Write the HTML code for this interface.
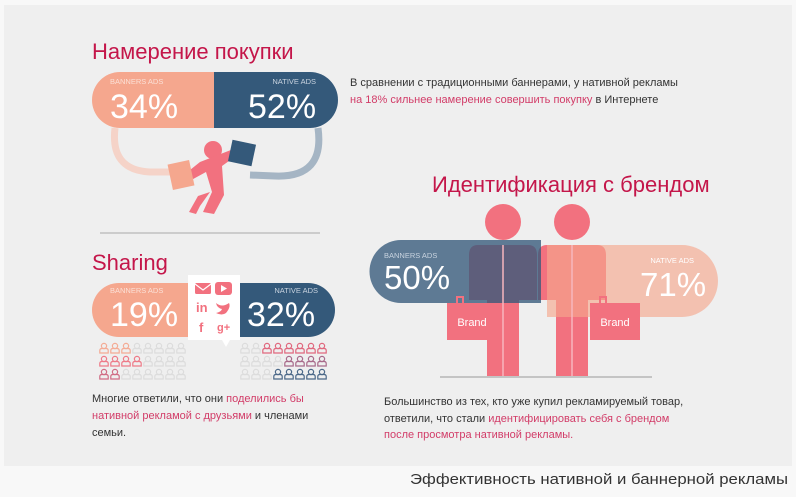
<!DOCTYPE html>
<html><head><meta charset="utf-8"><style>
html,body{margin:0;padding:0;background:#f8f8f8;}
svg{display:block;font-family:"Liberation Sans","DejaVu Sans",sans-serif;}
</style></head><body>
<svg width="796" height="497" viewBox="0 0 796 497" xmlns="http://www.w3.org/2000/svg">
<defs>
<g id="p"><circle cx="0" cy="-3" r="2.6" fill="none" stroke-width="1.2"/><path d="M-4.2,4 L-4.2,1.5 Q-4.2,-0.5 -2,-0.5 L2,-0.5 Q4.2,-0.5 4.2,1.5 L4.2,4 Z" fill="none" stroke-width="1.2"/></g>
</defs>
<rect x="4" y="5" width="788" height="461" fill="#efefef"/>

<!-- Section 1 -->
<text x="92" y="59" font-size="22" fill="#c4164a">Намерение покупки</text>
<path d="M115,128 Q110,170 150,172 L178,172" fill="none" stroke="#f5d3c8" stroke-width="7"/>
<path d="M318,128 Q325,178 275,176 L250,175" fill="none" stroke="#a5b5c4" stroke-width="7"/>
<path d="M120,72 H214 V128 H120 A28,28 0 0 1 120,72 Z" fill="#f5a78e"/>
<path d="M214,72 H310 A28,28 0 0 1 310,128 H214 Z" fill="#34597a"/>
<text x="110" y="84" font-size="7.5" fill="#fbe0d6">BANNERS ADS</text>
<text x="110" y="118" font-size="34" fill="#fff" font-weight="300">34%</text>
<text x="316" y="84" font-size="7.5" fill="#c8d3df" text-anchor="end">NATIVE ADS</text>
<text x="248" y="118" font-size="34" fill="#fff">52%</text>
<!-- shopper -->
<g fill="#f2717f">
<circle cx="213" cy="150" r="9"/>
<path d="M200,162 L236,148 L240,153 L222,166 L224,195 L214,214 L203,212 L212,192 L206,172 L184,184 L180,178 Z"/>
<path d="M210,192 L200,206 L196,214 L189,212 L198,196 Z"/>
</g>
<rect x="170" y="162" width="22" height="26" fill="#f5a78e" transform="rotate(-12 181 175)"/>
<rect x="230" y="142" width="24" height="22" fill="#34597a" transform="rotate(12 242 153)"/>
<text x="350" y="86" font-size="11" fill="#333">В сравнении с традиционными баннерами, у нативной рекламы</text>
<text x="350" y="103" font-size="11" fill="#333"><tspan fill="#d23c68">на 18% сильнее намерение совершить покупку</tspan> в Интернете</text>
<line x1="100" y1="233" x2="320" y2="233" stroke="#aaa" stroke-width="1"/>

<!-- Sharing -->
<text x="92" y="270" font-size="22" fill="#c4164a">Sharing</text>
<path d="M119,283 H225 V337 H119 A27,27 0 0 1 119,283 Z" fill="#f5a78e"/>
<path d="M230,283 H308 A27,27 0 0 1 308,337 H230 Z" fill="#34597a"/>
<text x="110" y="293" font-size="7.5" fill="#fbe0d6">BANNERS ADS</text>
<text x="110" y="326" font-size="34" fill="#fff">19%</text>
<text x="318" y="293" font-size="7.5" fill="#c8d3df" text-anchor="end">NATIVE ADS</text>
<text x="247" y="326" font-size="34" fill="#fff">32%</text>
<path d="M188,275 H240 V340 H230 L226,347 L222,340 H188 Z" fill="#fff"/>
<rect x="195" y="283" width="16" height="11" rx="1.5" fill="#f2717f"/>
<path d="M195,284 L203,290 L211,284" stroke="#fff" fill="none" stroke-width="1.2"/>
<rect x="215" y="282" width="17" height="13" rx="3" fill="#f2717f"/>
<path d="M221,285 L227,288.5 L221,292 Z" fill="#fff"/>
<text x="196" y="312" font-size="13" font-weight="bold" fill="#f2717f">in</text>
<path d="M216,303 Q222,308 229,303 Q231,307 226,313 Q222,316 216,313 Q221,312 222,309 Q217,308 216,303 Z" fill="#f2717f"/>
<text x="199" y="332" font-size="13" font-weight="bold" fill="#f2717f">f</text>
<text x="217" y="331" font-size="11" font-weight="bold" fill="#f2717f">g+</text>

<!-- people -->
<g stroke="#f4ab95"><use href="#p" x="104" y="349"/><use href="#p" x="115" y="349"/><use href="#p" x="126" y="349"/></g>
<g stroke="#dcdcdc"><use href="#p" x="137" y="349"/><use href="#p" x="148" y="349"/><use href="#p" x="159" y="349"/><use href="#p" x="170" y="349"/><use href="#p" x="181" y="349"/></g>
<g stroke="#ee7a88"><use href="#p" x="104" y="362"/><use href="#p" x="115" y="362"/><use href="#p" x="126" y="362"/><use href="#p" x="137" y="362"/></g>
<g stroke="#dcdcdc"><use href="#p" x="148" y="362"/><use href="#p" x="159" y="362"/><use href="#p" x="170" y="362"/><use href="#p" x="181" y="362"/></g>
<g stroke="#d06b84"><use href="#p" x="104" y="375"/><use href="#p" x="115" y="375"/></g>
<g stroke="#dcdcdc"><use href="#p" x="126" y="375"/><use href="#p" x="137" y="375"/><use href="#p" x="148" y="375"/><use href="#p" x="159" y="375"/><use href="#p" x="170" y="375"/><use href="#p" x="181" y="375"/></g>

<g stroke="#dcdcdc"><use href="#p" x="245" y="349"/><use href="#p" x="256" y="349"/></g>
<g stroke="#e0687e"><use href="#p" x="267" y="349"/><use href="#p" x="278" y="349"/><use href="#p" x="289" y="349"/><use href="#p" x="300" y="349"/><use href="#p" x="311" y="349"/><use href="#p" x="322" y="349"/></g>
<g stroke="#dcdcdc"><use href="#p" x="245" y="362"/><use href="#p" x="256" y="362"/><use href="#p" x="267" y="362"/><use href="#p" x="278" y="362"/></g>
<g stroke="#a86a8a"><use href="#p" x="289" y="362"/><use href="#p" x="300" y="362"/><use href="#p" x="311" y="362"/><use href="#p" x="322" y="362"/></g>
<g stroke="#dcdcdc"><use href="#p" x="245" y="375"/><use href="#p" x="256" y="375"/><use href="#p" x="267" y="375"/></g>
<g stroke="#4b6888"><use href="#p" x="278" y="375"/><use href="#p" x="289" y="375"/><use href="#p" x="300" y="375"/><use href="#p" x="311" y="375"/><use href="#p" x="322" y="375"/></g>

<text x="92" y="402" font-size="11" fill="#333">Многие  ответили, что они <tspan fill="#d23c68">поделились бы</tspan></text>
<text x="92" y="419" font-size="11" fill="#333"><tspan fill="#d23c68">нативной рекламой с друзьями</tspan> и членами</text>
<text x="92" y="436" font-size="11" fill="#333">семьи.</text>

<!-- Brand section -->
<text x="432" y="192" font-size="22" fill="#c4164a">Идентификация с брендом</text>
<g fill="#f2717f">
<circle cx="503" cy="222" r="18"/>
<path d="M478,245 H528 Q537,245 537,255 V300 H469 V255 Q469,245 478,245 Z"/>
<rect x="487" y="300" width="32" height="76"/>
<circle cx="572" cy="222" r="18"/>
<path d="M547,245 H597 Q606,245 606,255 V300 H538 V255 Q538,245 547,245 Z"/>
<rect x="556" y="300" width="32" height="76"/>
</g>
<path d="M401,240 H541 V303 H401 A31,31 0 0 1 401,240 Z" fill="#34597a" opacity="0.78"/>
<path d="M547,245 H682 A36,36 0 0 1 682,317 H547 Z" fill="#f5a78e" opacity="0.65"/>
<g stroke="#f7b6be" stroke-width="1.5"><line x1="503" y1="245" x2="503" y2="376"/><line x1="572" y1="245" x2="572" y2="376"/></g>
<path d="M457,303 V297 H463 V303 M600,303 V297 H606 V303" fill="none" stroke="#f2717f" stroke-width="2"/>
<rect x="447" y="303" width="50" height="37" fill="#f2717f"/>
<rect x="590" y="303" width="50" height="37" fill="#f2717f"/>
<text x="472" y="326" font-size="11" fill="#fff" text-anchor="middle">Brand</text>
<text x="615" y="326" font-size="11" fill="#fff" text-anchor="middle">Brand</text>
<text x="384" y="258" font-size="7.5" fill="#c8d3df">BANNERS ADS</text>
<text x="384" y="289" font-size="33" fill="#fff">50%</text>
<text x="694" y="263" font-size="7.5" fill="#fff" text-anchor="end">NATIVE ADS</text>
<text x="640" y="296" font-size="33" fill="#fff">71%</text>
<line x1="440" y1="377" x2="652" y2="377" stroke="#999" stroke-width="1"/>
<text x="384" y="405" font-size="11" fill="#333">Большинство из тех, кто уже купил рекламируемый товар,</text>
<text x="384" y="422" font-size="11" fill="#333">ответили, что стали <tspan fill="#d23c68">идентифицировать себя с брендом</tspan></text>
<text x="384" y="438" font-size="11" fill="#d23c68">после просмотра нативной рекламы.</text>

<text x="410" y="484" font-size="14.8" fill="#333" textLength="378" lengthAdjust="spacingAndGlyphs">Эффективность нативной и баннерной рекламы</text>
</svg>
</body></html>
